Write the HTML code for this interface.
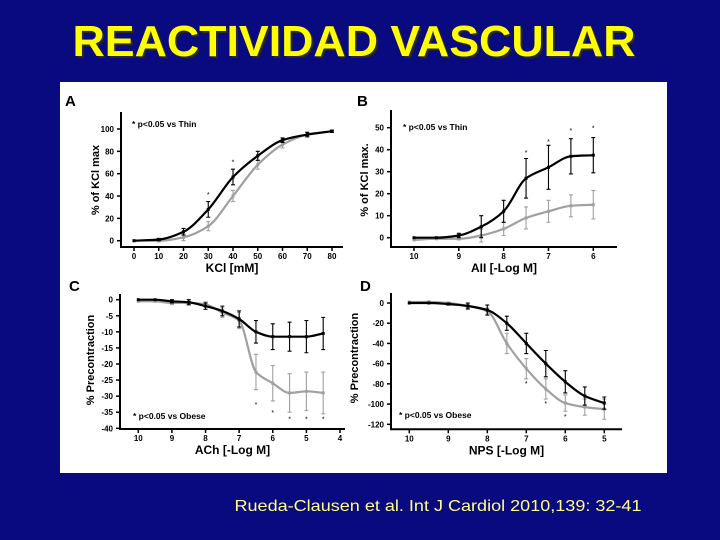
<!DOCTYPE html>
<html><head><meta charset="utf-8"><style>
html,body{margin:0;padding:0;background:#0a0a80;}
#wrap{position:relative;width:720px;height:540px;overflow:hidden;background:#0a0a80;}
svg text{font-family:"Liberation Sans",Arial,sans-serif;}
</style></head><body>
<div id="wrap">
<svg id="s" width="720" height="540" viewBox="0 0 720 540">
<text x="354" y="56" text-anchor="middle" font-size="44" font-weight="bold" fill="#2a2a10" textLength="563" lengthAdjust="spacingAndGlyphs" transform="translate(2,2)">REACTIVIDAD VASCULAR</text>
<text x="354" y="56" text-anchor="middle" font-size="44" font-weight="bold" fill="#ffff00" textLength="563" lengthAdjust="spacingAndGlyphs">REACTIVIDAD VASCULAR</text>
<rect x="60" y="82" width="607" height="391" fill="#ffffff"/>
<text x="438" y="511" text-anchor="middle" font-size="16" fill="#ffff80" textLength="407" lengthAdjust="spacingAndGlyphs">Rueda-Clausen et al. Int J Cardiol 2010,139: 32-41</text>
<g id="charts"></g>
</svg></div>
<script>
// Panel A
const aX=[0,10,20,30,40,50,60,70,80];
const aBlack=[0,1,8,28,57,76,90,95,98];
const aBlackErr=[0,1,3,7,7,4,2,2,1];
const aGray=[0,0,3,13,40,68,86,95,98];
const aGrayErr=[0,1,3,4,5,4,3,2,1];
const aStarX=[30,40];
const aStarY=[42,71];
const aXTicks=[0,10,20,30,40,50,60,70,80];
const aYTicks=[0,20,40,60,80,100];
// Panel B
const bX=[10,9.5,9,8.5,8,7.5,7,6.5,6];
const bBlack=[0,0,1,5,12,27,32,37,37.5];
const bBlackErr=[0,0,1,5,5,9,10,8,8];
const bGray=[-1,-0.5,-0.5,1,4,9,12,14.5,15];
const bGrayErr=[0,0,0.5,3,3,5,5,5,6.5];
const bStarX=[7.5,7,6.5,6];
const bStarY=[39,44,49,50];
const bXTicks=[10,9,8,7,6];
const bYTicks=[0,10,20,30,40,50];
// Panel C
const cX=[10,9.5,9,8.5,8,7.5,7,6.5,6,5.5,5,4.5];
const cBlack=[0,0,-0.5,-0.8,-2,-3.5,-6,-10,-11.5,-11.5,-11.5,-10.5];
const cBlackErr=[0,0,0.5,0.8,1,1.5,2.5,3.5,4,4.5,5,5];
const cGray=[-0.5,-0.5,-1,-1,-1.5,-4,-6.5,-22.5,-26,-29,-28.5,-29];
const cGrayErr=[0,0,0.5,0.5,0.8,1.5,2.5,5.5,5.5,6,6,6.5];
const cStarX=[6.5,6,5.5,5,4.5];
const cStarY=[-32.5,-35,-37,-37,-37];
const cXTicks=[10,9,8,7,6,5,4];
const cYTicks=[0,-5,-10,-15,-20,-25,-30,-35,-40];
// Panel D
const dX=[10,9.5,9,8.5,8,7.5,7,6.5,6,5.5,5];
const dBlack=[0,0,-1,-3,-7,-20,-40,-60,-78,-92,-99];
const dBlackErr=[0,0,1,3,5,7,10,13,11,9,6];
const dGray=[1,1,0,-3,-8,-40,-65,-85,-99,-103,-105];
const dGrayErr=[0,1,1,2,3,10,10,10,8,8,10];
const dStarX=[7,6.5,6];
const dStarY=[-79,-99,-112];
const dXTicks=[10,9,8,7,6,5];
const dYTicks=[0,-20,-40,-60,-80,-100,-120];

const NS="http://www.w3.org/2000/svg";
const root=document.getElementById('charts');
function mk(tag,attrs,parent,txt){const e=document.createElementNS(NS,tag);for(const k in attrs)e.setAttribute(k,attrs[k]);if(txt!==undefined)e.textContent=txt;parent.appendChild(e);return e;}
// monotone cubic interpolation (Fritsch-Carlson) in pixel space
function smoothPath(pts){const n=pts.length;const dx=[],dy=[],m=[];
 for(let i=0;i<n-1;i++){dx.push(pts[i+1][0]-pts[i][0]);dy.push(pts[i+1][1]-pts[i][1]);m.push(dy[i]/dx[i]);}
 const t=new Array(n);t[0]=m[0];t[n-1]=m[n-2];
 for(let i=1;i<n-1;i++){if(m[i-1]*m[i]<=0)t[i]=0;else{const w1=2*dx[i]+dx[i-1],w2=dx[i]+2*dx[i-1];t[i]=(w1+w2)/(w1/m[i-1]+w2/m[i]);}}
 let d='M'+pts[0][0].toFixed(1)+','+pts[0][1].toFixed(1);
 for(let i=0;i<n-1;i++){const h=dx[i]/3;
  d+=' C'+(pts[i][0]+h).toFixed(1)+','+(pts[i][1]+t[i]*h).toFixed(1)+' '+(pts[i+1][0]-h).toFixed(1)+','+(pts[i+1][1]-t[i+1]*h).toFixed(1)+' '+pts[i+1][0].toFixed(1)+','+pts[i+1][1].toFixed(1);}
 return d;}

function panel(cfg){
 const g=mk('g',{},root);
 
 
 const sx=v=>cfg.x0px+(v-cfg.x0)*(cfg.x1px-cfg.x0px)/(cfg.x1-cfg.x0);
 const sy=v=>cfg.y0px+(v-cfg.y0)*(cfg.y1px-cfg.y0px)/(cfg.y1-cfg.y0);
 const lt=mk('text',{x:cfg.lx,y:cfg.ly,'font-size':15,'font-weight':'bold',fill:'#000'},g,cfg.letter);
 
 
 const ax=mk('path',{d:`M${cfg.axL},${cfg.axTop} V${cfg.axB} H${cfg.axR}`,stroke:'#000','stroke-width':2,fill:'none'},g);
 
 
 cfg.yt.forEach(v=>{const y=sy(v);
  mk('line',{x1:cfg.axL-4,x2:cfg.axL,y1:y,y2:y,stroke:'#000','stroke-width':1.5},g);
  const t=mk('text',{x:cfg.axL-7,y:y+3,'font-size':8,'font-weight':'bold','text-anchor':'end'},g,String(v));
  
  });
 cfg.xt.forEach(v=>{const x=sx(v);
  mk('line',{x1:x,x2:x,y1:cfg.axB,y2:cfg.axB+4,stroke:'#000','stroke-width':1.5},g);
  const t=mk('text',{x:x,y:cfg.axB+12,'font-size':8,'font-weight':'bold','text-anchor':'middle'},g,String(v));
  
  });
 const xt=mk('text',{x:(cfg.axL+cfg.axR)/2,y:cfg.axB+25,'font-size':12,'font-weight':'bold','text-anchor':'middle'},g,cfg.xTitle);
 
 
 const yt=mk('text',{x:0,y:0,'font-size':11,'font-weight':'bold','text-anchor':'middle',transform:`translate(${cfg.ytx},${cfg.yty}) rotate(-90)`},g,cfg.yTitle);
 
 
 const lg=mk('text',{x:cfg.legx,y:cfg.legy,'font-size':8.5,'font-weight':'bold'},g,'* '+cfg.leg);
 
 
 [['gray','#a0a0a0',cfg.gray,cfg.grayErr],['black','#000',cfg.black,cfg.blackErr]].forEach(([nm,col,ys,es])=>{
  const pts=cfg.xs.map((v,i)=>[sx(v),sy(ys[i])]);
  const p=mk('path',{d:smoothPath(pts),stroke:col,'stroke-width':2.2,fill:'none'},g);
  
  
  cfg.xs.forEach((v,i)=>{const x=sx(v);
   if(es[i]>0){const e=mk('path',{d:`M${x},${sy(ys[i]-es[i])} V${sy(ys[i]+es[i])} M${x-2},${sy(ys[i]-es[i])} h4 M${x-2},${sy(ys[i]+es[i])} h4`,stroke:col,'stroke-width':1.1,fill:'none'},g);
    
    }
   const m=mk('rect',{x:x-1.5,y:sy(ys[i])-1.5,width:3,height:3,fill:col},g);
   
   });
 });
 cfg.sX.forEach((v,i)=>{const s=mk('text',{x:sx(v),y:sy(cfg.sY[i])+3,'font-size':7,'text-anchor':'middle'},g,'*');
  
  });
}
panel({key:'a',letter:'A',lx:65,ly:106,x0:0,x1:80,x0px:134,x1px:332,y0:0,y1:100,y0px:240.7,y1px:129,
 axL:121,axR:343,axB:247,axTop:112,xt:aXTicks,yt:aYTicks,xs:aX,black:aBlack,blackErr:aBlackErr,gray:aGray,grayErr:aGrayErr,
 sX:aStarX,sY:aStarY,xTitle:'KCl  [mM]',yTitle:'% of KCl max',ytx:99,yty:180,legx:132,legy:127,leg:'p<0.05 vs Thin'});
panel({key:'b',letter:'B',lx:357,ly:106,x0:10,x1:6,x0px:414,x1px:593.3,y0:0,y1:50,y0px:237.7,y1px:127.7,
 axL:391,axR:617,axB:247,axTop:110,xt:bXTicks,yt:bYTicks,xs:bX,black:bBlack,blackErr:bBlackErr,gray:bGray,grayErr:bGrayErr,
 sX:bStarX,sY:bStarY,xTitle:'AII  [-Log M]',yTitle:'% of KCl max.',ytx:368,yty:180,legx:403,legy:130,leg:'p<0.05 vs Thin'});
panel({key:'c',letter:'C',lx:69,ly:291,x0:10,x1:4,x0px:138.3,x1px:340,y0:0,y1:-40,y0px:299.7,y1px:428.3,
 axL:120,axR:345,axB:429,axTop:294,xt:cXTicks,yt:cYTicks,xs:cX,black:cBlack,blackErr:cBlackErr,gray:cGray,grayErr:cGrayErr,
 sX:cStarX,sY:cStarY,xTitle:'ACh  [-Log M]',yTitle:'% Precontraction',ytx:94,yty:360,legx:133,legy:419,leg:'p<0.05 vs Obese'});
panel({key:'d',letter:'D',lx:360,ly:291,x0:10,x1:5,x0px:409.3,x1px:604.3,y0:0,y1:-120,y0px:303,y1px:424.3,
 axL:391,axR:622,axB:429.3,axTop:293,xt:dXTicks,yt:dYTicks,xs:dX,black:dBlack,blackErr:dBlackErr,gray:dGray,grayErr:dGrayErr,
 sX:dStarX,sY:dStarY,xTitle:'NPS [-Log M]',yTitle:'% Precontraction',ytx:358,yty:358,legx:399,legy:418,leg:'p<0.05 vs Obese'});
</script>
</body></html>
